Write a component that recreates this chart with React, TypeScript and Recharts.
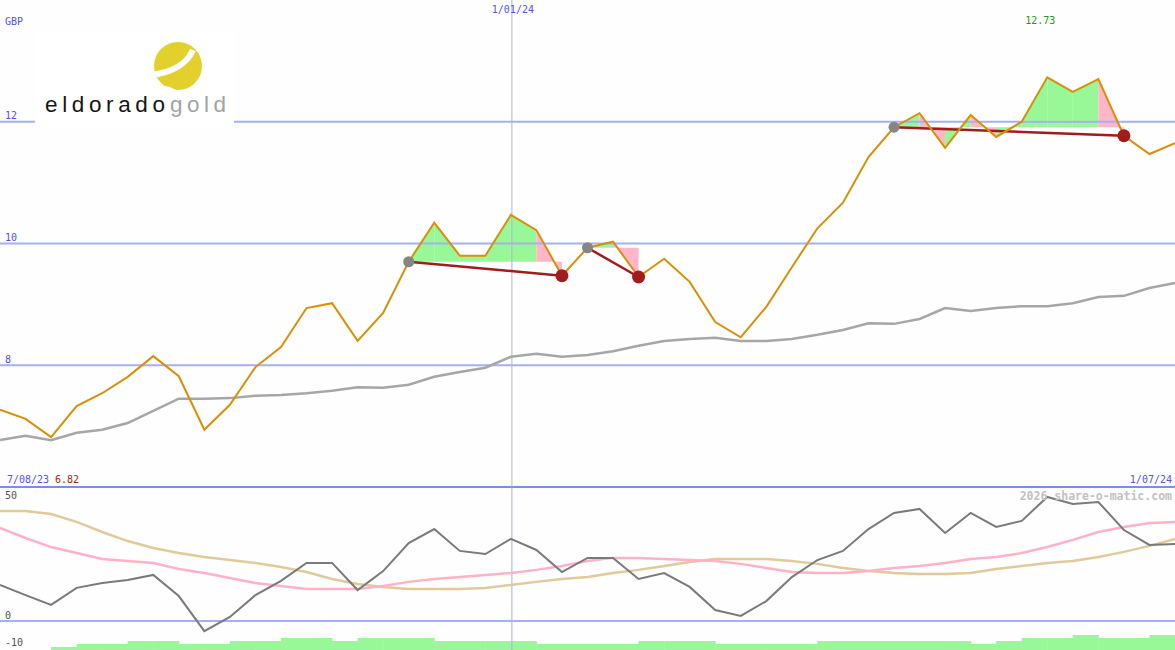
import React from 'react';
import {
  ComposedChart,
  BarChart,
  Bar,
  Line,
  Area,
  XAxis,
  YAxis,
  ReferenceLine,
  ReferenceDot,
} from 'recharts';

// weekly closes, GBP (7/08/23 .. 1/07/24)
const price = [
  7.27, 7.12, 6.82, 7.33, 7.54, 7.81, 8.15, 7.82, 6.94, 7.35,
  7.97, 8.3, 8.94, 9.02, 8.4, 8.86, 9.7, 10.34, 9.8, 9.8,
  10.47, 10.22, 9.47, 9.93, 10.03, 9.45, 9.75, 9.37, 8.71, 8.46,
  8.96, 9.61, 10.25, 10.67, 11.42, 11.91, 12.14, 11.57, 12.11, 11.75,
  12.0, 12.73, 12.49, 12.7, 11.77, 11.47, 11.65,
];

// moving average
const movingAvg = [
  6.77, 6.84, 6.77, 6.89, 6.94, 7.05, 7.25, 7.45, 7.45, 7.46,
  7.5, 7.51, 7.54, 7.58, 7.64, 7.63, 7.68, 7.81, 7.89, 7.96,
  8.14, 8.19, 8.14, 8.17, 8.23, 8.32, 8.4, 8.43, 8.45, 8.4,
  8.4, 8.43, 8.5, 8.58, 8.69, 8.68, 8.76, 8.94, 8.89, 8.94,
  8.97, 8.97, 9.02, 9.12, 9.14, 9.27, 9.35,
];

// lower panel oscillator lines
const oscillator = [
  15.0, 10.8, 6.7, 13.8, 15.8, 17.1, 19.2, 10.4, -4.2, 1.7,
  10.8, 16.7, 24.2, 24.2, 12.9, 20.8, 32.5, 38.3, 29.2, 27.9,
  34.2, 29.6, 20.4, 26.3, 26.3, 17.5, 20.0, 14.2, 4.6, 2.1,
  8.3, 18.3, 25.4, 29.2, 38.3, 45.0, 46.7, 36.7, 45.0, 39.2,
  41.7, 51.7, 48.8, 49.6, 37.9, 31.7, 32.1,
];
const signalPink = [
  38.8, 34.6, 30.8, 28.3, 25.8, 25.0, 24.2, 21.7, 20.0, 17.9,
  15.8, 14.6, 13.3, 13.3, 13.3, 14.6, 16.3, 17.5, 18.3, 19.2,
  20.0, 21.3, 22.9, 25.0, 26.3, 26.3, 25.8, 25.4, 25.0, 23.8,
  22.1, 20.4, 20.0, 20.0, 20.8, 22.1, 22.9, 24.2, 25.8, 26.7,
  28.3, 30.8, 33.8, 37.1, 39.2, 40.8, 41.3,
];
const signalTan = [
  45.8, 45.8, 44.6, 41.3, 37.1, 33.3, 30.4, 28.3, 26.7, 25.4,
  24.2, 22.5, 20.4, 17.5, 15.4, 14.2, 13.3, 13.3, 13.3, 13.8,
  15.0, 16.3, 17.5, 18.3, 20.0, 21.3, 22.9, 24.6, 25.8, 25.8,
  25.8, 25.0, 23.8, 22.1, 20.8, 20.0, 19.6, 19.6, 20.0, 21.7,
  22.9, 24.2, 25.0, 26.7, 28.8, 31.3, 34.2,
];

// weekly volume steps (one per interval)
const volume = [
  null, null, 1, 2, 2, 3, 3, 2, 2, 3,
  3, 4, 4, 3, 4, 4, 4, 3, 3, 3,
  3, 2, 2, 2, 2, 3, 3, 3, 2, 2,
  2, 2, 3, 3, 3, 3, 3, 3, 2, 3,
  4, 4, 5, 4, 4, 5,
];

// trend zones: start / end week index
const zoneStarts = [16, 23, 35];
const zoneEnds = [22, 25, 44];
const greenSteps = [16, 17, 18, 19, 20, 23, 35, 37, 39, 40, 41, 42];
const pinkSteps = [21, 24, 36, 38, 43];

const gridValues = [12, 10, 8];
const janIndex = 20.04;
const maxIndex = 41;

const BLUE = '#5252ee';
const GRID = '#a2b1f1';
const MONO = '"DejaVu Sans Mono", monospace';
const W = 1175;

const rows: Record<string, any>[] = price.map((p, i) => ({
  i,
  price: p,
  ma: movingAvg[i],
  osc: oscillator[i],
  pink: signalPink[i],
  tan: signalTan[i],
}));

zoneStarts.forEach((s, k) => {
  rows[s][`z${k}`] = price[s];
  rows[zoneEnds[k]][`z${k}`] = price[zoneEnds[k]];
});

const allSteps = [...greenSteps, ...pinkSteps];
allSteps.forEach((s) => {
  const start = Math.max(...zoneStarts.filter((z) => z <= s));
  const base = price[start];
  rows[s][`f${s}`] = [base, price[s]];
  rows[s + 1][`f${s}`] = [base, price[s + 1]];
});

const volRows = volume.map((v, i) => ({ i, vol: v }));

const gridLabel = (text: string, dy: number, color = BLUE) => (props: any) => (
  <text x={5} y={props.viewBox.y + dy} fill={color} fontSize={10} fontFamily={MONO}>
    {text}
  </text>
);

const zoneDot = (k: number) => (props: any) => {
  const { cx, cy, index, value } = props;
  if (value == null || cx == null || cy == null) return <g key={`d-${k}-${index}`} />;
  const isStart = index === zoneStarts[k];
  return (
    <circle
      key={`d-${k}-${index}`}
      cx={cx}
      cy={cy}
      r={isStart ? 5.5 : 6.5}
      fill={isStart ? '#858585' : '#a11c1c'}
    />
  );
};

export default function App() {
  return (
    <div
      style={{
        position: 'absolute',
        left: 0,
        top: 0,
        width: W,
        height: 650,
        background: '#fdfefd',
        overflow: 'hidden',
      }}
    >
      {/* volume steps */}
      <div style={{ position: 'absolute', left: 0, top: 487 }}>
        <BarChart width={W} height={163} data={volRows} margin={{ top: 0, right: 0, bottom: 0, left: 0 }} barCategoryGap={0} barGap={0}>
          <XAxis dataKey="i" hide />
          <YAxis domain={[0, 54.33]} hide />
          <Bar dataKey="vol" fill="#98f898" isAnimationActive={false} />
        </BarChart>
      </div>

      {/* lower oscillator panel */}
      <div style={{ position: 'absolute', left: 0, top: 487 }}>
        <ComposedChart width={W} height={163} data={rows} margin={{ top: 0, right: 0, bottom: 0, left: 0 }}>
          <XAxis dataKey="i" type="number" domain={[0, 46]} hide />
          <YAxis domain={[-12.08, 55.83]} hide allowDataOverflow />
          <ReferenceLine x={janIndex} stroke="#aab0d6" strokeWidth={1} />
          <ReferenceLine y={0} stroke={GRID} strokeWidth={2} label={gridLabel('0', -2.5, '#555')} />
          <ReferenceLine y={50} stroke="none" label={gridLabel('50', -1.5, '#555')} />
          <ReferenceLine y={-10} stroke="none" label={gridLabel('-10', 0.5, '#555')} />
          <Line dataKey="tan" type="linear" stroke="#e2c99a" strokeWidth={2.5} dot={false} activeDot={false} isAnimationActive={false} />
          <Line dataKey="pink" type="linear" stroke="#ffb2c6" strokeWidth={2.5} dot={false} activeDot={false} isAnimationActive={false} />
          <Line dataKey="osc" type="linear" stroke="#7a7a7a" strokeWidth={2} dot={false} activeDot={false} isAnimationActive={false} />
        </ComposedChart>
      </div>

      {/* main price panel */}
      <div style={{ position: 'absolute', left: 0, top: 0 }}>
        <ComposedChart width={W} height={492} data={rows} margin={{ top: 0, right: 0, bottom: 5, left: 0 }}>
          <XAxis dataKey="i" type="number" domain={[0, 46]} hide />
          <YAxis domain={[6, 14]} hide />
          {gridValues.map((v) => (
            <ReferenceLine key={v} y={v} stroke={GRID} strokeWidth={2} label={gridLabel(String(v), -2.5)} />
          ))}
          <ReferenceLine
            y={6}
            stroke="#7b8bef"
            strokeWidth={2}
            label={(props: any) => (
              <g fontFamily={MONO} fontSize={10}>
                <text x={7} y={props.viewBox.y - 4.5} fill={BLUE}>7/08/23</text>
                <text x={55} y={props.viewBox.y - 4.5} fill="#a82020">{price[2].toFixed(2)}</text>
                <text x={1172} y={props.viewBox.y - 4.5} fill={BLUE} textAnchor="end">1/07/24</text>
              </g>
            )}
          />
          <ReferenceLine
            x={janIndex}
            stroke="#b2b4c8"
            strokeWidth={1}
            label={(props: any) => (
              <text x={props.viewBox.x + 1} y={12.6} fill={BLUE} fontSize={10} fontFamily={MONO} textAnchor="middle">
                1/01/24
              </text>
            )}
          />
          {allSteps.map((s) => (
            <Area
              key={`f${s}`}
              dataKey={`f${s}`}
              type="linear"
              stroke="none"
              fill={greenSteps.includes(s) ? '#98f898' : '#ffb6c8'}
              fillOpacity={1}
              dot={false}
              activeDot={false}
              isAnimationActive={false}
            />
          ))}
          <Line dataKey="ma" type="linear" stroke="#a6a6a6" strokeWidth={2.5} dot={false} activeDot={false} isAnimationActive={false} />
          {zoneStarts.map((s, k) => (
            <Line
              key={`z${k}`}
              dataKey={`z${k}`}
              type="linear"
              stroke="#a11c1c"
              strokeWidth={2.5}
              connectNulls
              dot={zoneDot(k)}
              activeDot={false}
              isAnimationActive={false}
            />
          ))}
          <Line dataKey="price" type="linear" stroke="#db8e06" strokeWidth={2} dot={false} activeDot={false} isAnimationActive={false} />
          <ReferenceDot
            x={maxIndex}
            y={price[maxIndex]}
            r={0}
            fill="none"
            stroke="none"
            label={(props: any) => (
              <text x={props.viewBox.x - 7} y={23.6} fill="#1d9a1d" fontSize={10} fontFamily={MONO} textAnchor="middle">
                {price[maxIndex].toFixed(2)}
              </text>
            )}
          />
        </ComposedChart>
      </div>

      {/* header text, logo and watermark */}
      <svg width={W} height={650} style={{ position: 'absolute', left: 0, top: 0, pointerEvents: 'none' }}>
        <text x={5} y={24.6} fill={BLUE} fontSize={10} fontFamily={MONO}>GBP</text>
        <rect x={35} y={32} width={199} height={93} fill="#ffffff" />
        <circle cx={178} cy={66} r={24} fill="#e3d02c" />
        <path d="M151 75 C 168 73, 186 66, 193 50" stroke="#ffffff" strokeWidth={6} fill="none" />
        <path d="M156 84 C 163 86, 170 86, 176 90 L 170 93 Z" fill="#ffffff" />
        <text
          x={45}
          y={112}
          fontFamily='"Liberation Sans", Arial, sans-serif'
          fontSize={22.5}
          fill="#151515"
          textLength={120}
          lengthAdjust="spacing"
        >
          eldorado
        </text>
        <text
          x={170}
          y={112}
          fontFamily='"Liberation Sans", Arial, sans-serif'
          fontSize={22.5}
          fill="#a3a3a3"
          textLength={56}
          lengthAdjust="spacing"
        >
          gold
        </text>
        <text x={1172} y={500} fill="#c2c2c2" fontSize={11.5} fontWeight="bold" fontFamily={MONO} textAnchor="end">
          2026 share-o-matic.com
        </text>
      </svg>
    </div>
  );
}
